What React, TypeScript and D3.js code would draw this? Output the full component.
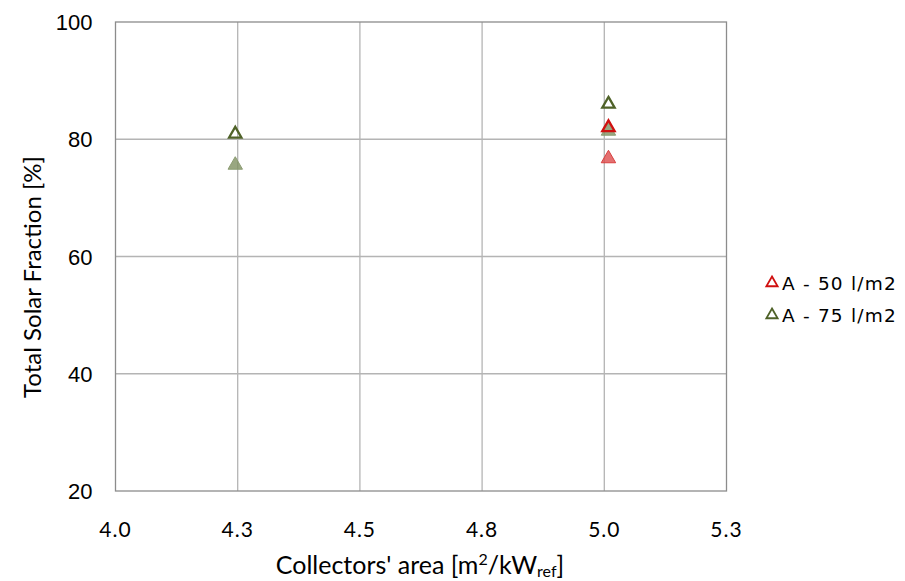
import React from 'react'
import * as d3 from 'd3'

// values
const xTicks = [4.0, 4.25, 4.5, 4.75, 5.0, 5.25]
const yTicks = [20, 40, 60, 80, 100]

const hollow50 = [{ x: 5.0085, y: 82.0 }]
const hollow75 = [{ x: 4.245, y: 80.9 }, { x: 5.0085, y: 86.0 }]
const filled50 = [{ x: 5.0085, y: 76.7 }]
const filled75 = [{ x: 4.245, y: 75.6 }, { x: 5.0085, y: 81.4 }]

const legendItems = [
  { label: 'A - 50 l/m2', color: '#d01010' },
  { label: 'A - 75 l/m2', color: '#4f6228' },
]

const width = 905
const height = 581
const plot = { left: 115.5, right: 726.5, top: 22, bottom: 491 }

export default function App() {
  const x = d3.scaleLinear().domain([4.0, 5.25]).range([plot.left, plot.right])
  const y = d3.scaleLinear().domain([20, 100]).range([plot.bottom, plot.top])

  const hollowPath = d3.symbol(d3.symbolTriangle, 66)() as string
  const filledPath = d3.symbol(d3.symbolTriangle, 90)() as string
  const legendPath = d3.symbol(d3.symbolTriangle, 55)() as string

  return (
    <div style={{ position: 'absolute', left: 0, top: 0 }}>
      <svg width={width} height={height} style={{ display: 'block', background: '#fff' }}>
        {/* grid */}
        {xTicks.slice(1, -1).map(t => (
          <line key={'gx' + t} x1={x(t)} x2={x(t)} y1={plot.top} y2={plot.bottom} stroke="#b4b4b4" strokeWidth={1.3} />
        ))}
        {yTicks.slice(1, -1).map(t => (
          <line key={'gy' + t} x1={plot.left} x2={plot.right} y1={y(t)} y2={y(t)} stroke="#b4b4b4" strokeWidth={1.3} />
        ))}
        <rect x={plot.left} y={plot.top} width={plot.right - plot.left} height={plot.bottom - plot.top}
          fill="none" stroke="#8c8c8c" strokeWidth={1.3} />

        {/* y ticks */}
        {yTicks.map(t => (
          <text key={'yt' + t} x={plot.left - 23} y={y(t) + 8} textAnchor="end"
            fontFamily="Liberation Sans, Arial, sans-serif" fontSize={22} fill="#000">{t}</text>
        ))}
        {/* x ticks */}
        {xTicks.map(t => (
          <text key={'xt' + t} x={x(t)} y={537} textAnchor="middle"
            fontFamily="Lato, sans-serif" fontSize={21} letterSpacing={1} fill="#000">{d3.format('.1f')(t)}</text>
        ))}

        {/* axis titles */}
        <text x={420} y={574} textAnchor="middle" fontFamily="Lato, sans-serif" fontSize={25} fill="#000">
          Collectors' area [m<tspan dy={-9} fontSize={16}>2</tspan><tspan dy={9}>/kW</tspan><tspan dy={3} fontSize={16}>ref</tspan><tspan dy={-3}>]</tspan>
        </text>
        <text transform={`translate(41, 277) rotate(-90)`} textAnchor="middle"
          fontFamily="Lato, sans-serif" fontSize={24} fill="#000">Total Solar Fraction [%]</text>

        {/* marks */}
        {filled75.map((d, i) => (
          <path key={'f75' + i} d={filledPath} transform={`translate(${x(d.x)},${y(d.y)})`}
            fill="#7f9161" fillOpacity={0.8} stroke="#8c9c72" strokeWidth={1} />
        ))}
        {filled50.map((d, i) => (
          <path key={'f50' + i} d={filledPath} transform={`translate(${x(d.x)},${y(d.y)})`}
            fill="#dd4c4c" fillOpacity={0.8} stroke="#d84040" strokeWidth={1} />
        ))}
        {hollow75.map((d, i) => (
          <path key={'h75' + i} d={hollowPath} transform={`translate(${x(d.x)},${y(d.y)})`}
            fill="none" stroke="#4f6228" strokeWidth={2.3} />
        ))}
        {hollow50.map((d, i) => (
          <path key={'h50' + i} d={hollowPath} transform={`translate(${x(d.x)},${y(d.y)})`}
            fill="none" stroke="#d01010" strokeWidth={2.3} />
        ))}

        {/* legend */}
        {legendItems.map((it, i) => (
          <g key={it.label} transform={`translate(772, ${283 + i * 32})`}>
            <path d={legendPath} fill="none" stroke={it.color} strokeWidth={1.8} />
            <text x={10} y={7} fontFamily="DejaVu Sans, sans-serif" fontSize={18.5} letterSpacing={1.2} fill="#000">{it.label}</text>
          </g>
        ))}
      </svg>
    </div>
  )
}
